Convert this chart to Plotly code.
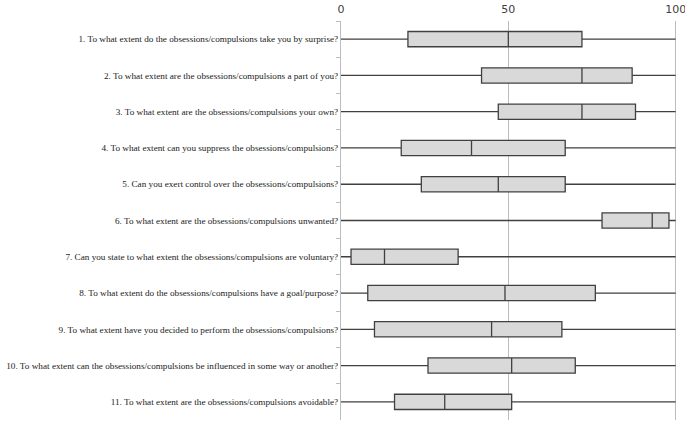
import plotly.graph_objects as go

questions = [
    "1. To what extent do the obsessions/compulsions take you by surprise?",
    "2. To what extent are the obsessions/compulsions a part of you?",
    "3. To what extent are the obsessions/compulsions your own?",
    "4. To what extent can you suppress the obsessions/compulsions?",
    "5. Can you exert control over the obsessions/compulsions?",
    "6. To what extent are the obsessions/compulsions unwanted?",
    "7. Can you state to what extent the obsessions/compulsions are voluntary?",
    "8. To what extent do the obsessions/compulsions have a goal/purpose?",
    "9. To what extent have you decided to perform the obsessions/compulsions?",
    "10. To what extent can the obsessions/compulsions be influenced in some way or another?",
    "11. To what extent are the obsessions/compulsions avoidable?",
]
q1 = [20, 42, 47, 18, 24, 78, 3, 8, 10, 26, 16]
medians = [50, 72, 72, 39, 47, 93, 13, 49, 45, 51, 31]
q3 = [72, 87, 88, 67, 67, 98, 35, 76, 66, 70, 51]
mins = [0] * 11
maxs = [100] * 11
x_ticks = [0, 50, 100]

fig = go.Figure(go.Box(
    y=questions, q1=q1, median=medians, q3=q3,
    lowerfence=mins, upperfence=maxs,
    orientation='h', boxpoints=False, whiskerwidth=0, width=0.42,
    fillcolor='#d9d9d9', line={'color': '#404040', 'width': 1.3},
    hoverinfo='skip',
))

fig.update_layout(
    width=685, height=424,
    margin={'l': 341, 'r': 6, 't': 21, 'b': 4},
    paper_bgcolor='white', plot_bgcolor='white',
    showlegend=False,
    xaxis={
        # a bit past 100 so the 100 gridline is not clipped at the edge
        'side': 'top', 'range': [0, 101], 'tickvals': x_ticks,
        'automargin': False, 'ticklabelstandoff': 5,
        'ticklabeloverflow': 'allow',
        'showgrid': True, 'gridcolor': '#bdbdbd', 'gridwidth': 1,
        'zeroline': False, 'showline': False, 'ticks': '',
        'tickfont': {'family': 'DejaVu Sans', 'size': 11, 'color': '#404040'},
    },
    yaxis={
        'type': 'category', 'categoryorder': 'array',
        'categoryarray': questions,
        'range': [len(questions) - 0.5, -0.5],  # first question on top
        'automargin': False,
        'showgrid': False, 'zeroline': False,
        'showline': True, 'linecolor': '#bdbdbd', 'linewidth': 1,
        'ticks': 'outside', 'tickson': 'boundaries', 'ticklen': 4,
        'tickcolor': '#bdbdbd',
        'tickfont': {'family': 'Liberation Serif', 'size': 9.2, 'color': '#222222'},
    },
)

# drop the page's default body margin so the figure fills the window
fig.write_html("out.html", config={'displayModeBar': False},
               post_script="document.body.style.margin = '0';")
